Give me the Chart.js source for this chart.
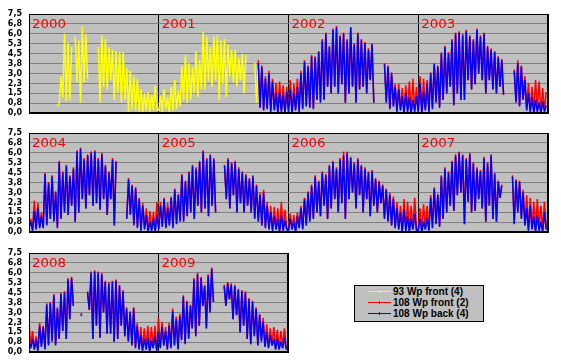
<!DOCTYPE html>
<html>
<head>
<meta charset="utf-8">
<script src="https://cdn.jsdelivr.net/npm/chart.js@4.4.1/dist/chart.umd.min.js"></script>
<style>
html,body{margin:0;padding:0;background:#fff;width:561px;height:361px;overflow:hidden;}
canvas{position:absolute;left:0;}
#legend{position:absolute;left:354px;top:285px;width:128px;height:35px;background:#c0c0c0;border:1px solid #000;font:bold 10px "Liberation Sans",Arial,sans-serif;color:#000;}
.lrow{position:absolute;left:0;height:11px;line-height:11px;white-space:nowrap;}
.lline{position:absolute;left:13px;width:23px;height:1px;top:5px;}
.ltick{position:absolute;left:11px;top:-1px;width:1px;height:3px;}
.ltext{position:absolute;left:38px;top:0;}
</style>
</head>
<body>
<canvas id="row1" width="561" height="125" style="top:0px"></canvas>
<canvas id="row2" width="561" height="125" style="top:119px"></canvas>
<canvas id="row3" width="300" height="125" style="top:239px"></canvas>
<div id="legend"></div>
<script>
const _ = null;
const legendLabels = ['93 Wp front (4)', '108 Wp front (2)', '108 Wp back (4)'];
const seriesColors = ['#ffff00', '#ff0000', '#0000ff'];
const yTickLabels = ['0,0','0,8','1,5','2,3','3,0','3,8','4,5','5,3','6,0','6,8','7,5'];
const yearsRow1 = ['2000','2001','2002','2003'];
const yearsRow2 = ['2004','2005','2006','2007'];
const yearsRow3 = ['2008','2009'];

// values every 5 days (73 per year)
const yellow2000 = [_,_,_,_,_,_, _,_,_,_,_,_, _,_,_,_,0.5,0.7, 2.8,1.2,6.0,0.9,5.3,1.0, 5.0,_,5.8,2.3,5.5,0.8, 6.6,2.3,6.0,2.6,_,_, _,_,_,5.0,0.8,5.9, 2.0,5.6,1.8,5.0,2.5,4.8, 1.0,4.7,1.5,4.6,0.8,4.6, 1.0,3.4,0.1,3.2,0.3,2.8, 0.2,2.6,0.1,1.8,0.0,1.5, 0.2,1.6,0.1,1.4,0.2,2.1, 0.3];
const yellow2001 = [0.2,1.3,0.1,1.8,0.3,1.2, 0.0,2.0,0.2,2.5,0.3,1.7, 0.5,3.6,1.0,4.4,0.8,3.8, 1.0,3.5,1.5,4.7,1.2,4.0, 1.8,6.2,1.8,5.8,2.4,5.0, 2.0,5.8,2.5,5.9,1.0,5.5, 2.2,5.6,1.2,5.2,2.8,4.8, 2.3,4.8,2.0,4.2,2.5,4.5, 1.5,4.4,_,_,_,_, 3.8,0.8,3.5,0.9,_,_, _,_,_,_,_,_, _,_,_,_,_,_, _];

const red2001 = [_,_,_,_,_,_, _,_,_,_,_,_, _,_,_,_,_,_, _,_,_,_,_,_, _,_,_,_,_,_, _,_,_,_,_,_, _,_,_,_,_,_, _,_,_,_,_,_, _,_,_,_,_,_, _,_,4.0,0.5,3.6,0.3, 2.8,0.4,3.2,0.2,2.6,0.3, 2.3,0.1,2.4,0.2,2.1,0.1, 2.0];
const blue2001 = [_,_,_,_,_,_, _,_,_,_,_,_, _,_,_,_,_,_, _,_,_,_,_,_, _,_,_,_,_,_, _,_,_,_,_,_, _,_,_,_,_,_, _,_,_,_,_,_, _,_,_,_,_,_, _,_,3.8,0.4,3.5,0.2, 2.6,0.3,3.0,0.1,2.4,0.2, 1.5,0.0,1.6,0.1,1.4,0.0, 1.6];

const red2002 = [0.2,2.5,0.1,2.2,0.3,2.6, 0.2,3.2,0.4,4.0,0.6,3.6, 0.5,4.4,0.4,4.3,1.1,4.7, 0.9,5.6,1.1,6.1,2.0,5.1, 1.5,6.4,2.0,6.6,1.5,5.9, 2.2,6.1,0.8,5.6,1.5,6.5, 2.0,5.3,0.8,6.1,1.8,5.6, 2.0,5.4,1.5,4.9,2.5,5.3, 0.8,_,_,_,_,_, 3.8,0.9,3.6,0.4,3.1,0.6, 2.2,0.2,2.2,0.3,1.9,0.1, 2.1,0.2,2.4,0.1,2.6,0.2, 2.0];
const blue2002 = [0.1,1.8,0.0,1.5,0.2,2.0, 0.1,3.0,0.3,3.9,0.5,3.5, 0.4,4.3,0.3,4.2,1.0,4.6, 0.8,5.5,1.0,6.0,2.0,5.0, 1.5,6.3,2.0,6.5,1.5,5.8, 2.2,6.0,0.8,5.5,1.5,6.5, 2.0,5.2,0.8,6.0,1.8,5.5, 2.0,5.3,1.5,4.8,2.5,5.2, 0.8,_,_,_,_,_, 3.7,0.8,3.5,0.3,3.0,0.5, 2.0,0.1,1.8,0.2,1.3,0.0, 1.5,0.1,1.2,0.0,1.0,0.1, 1.3];

const red2003 = [0.2,2.8,0.1,2.6,0.3,2.5, 0.2,3.1,0.4,3.8,0.9,3.6, 0.5,4.6,1.0,5.1,1.5,4.6, 2.0,5.6,0.6,6.1,1.5,6.2, 1.0,6.0,1.0,6.3,2.5,5.9, 1.8,5.6,2.2,6.4,3.0,5.9, 2.5,6.1,1.5,5.1,2.5,4.9, 1.8,4.7,1.5,4.3,2.0,4.1, 1.4,_,_,_,_,_, 3.3,0.9,4.0,0.6,3.6,1.1, 2.8,0.3,2.3,0.2,2.0,0.1, 2.5,0.2,2.4,0.1,1.9,0.2, 1.6];
const blue2003 = [0.1,2.3,0.0,1.6,0.2,2.2, 0.1,3.0,0.3,3.7,0.8,3.5, 0.4,4.5,1.0,5.0,1.5,4.5, 2.0,5.5,0.6,6.0,1.5,6.1, 1.0,5.9,1.0,6.2,2.5,5.8, 1.8,5.5,2.2,6.3,3.0,5.8, 2.5,6.0,1.5,5.0,2.5,4.8, 1.8,4.6,1.5,4.2,2.0,4.0, 1.4,_,_,_,_,_, 3.2,0.8,3.8,0.5,3.5,1.0, 2.5,0.2,1.5,0.1,1.2,0.0, 1.0,0.1,0.8,0.0,0.9,0.1, 0.6];

const red2004 = [0.5,1.0,0.2,2.4,0.3,2.2, 0.4,1.5,0.4,4.5,0.6,3.8, 1.1,4.3,0.9,3.1,0.4,5.4, 1.1,4.6,1.5,5.1,1.3,4.3, 2.0,4.9,0.8,6.2,1.5,6.4, 2.5,5.6,1.8,5.9,2.8,6.1, 2.0,6.2,2.2,5.6,1.7,6.0, 2.5,5.1,1.3,4.6,2.5,5.6, 0.5,5.4,_,_,_,_, _,1.1,4.1,1.4,3.6,0.6, 3.4,0.4,2.6,0.2,2.2,0.3, 1.8,0.1,1.6,0.2,1.5,0.1, 2.3];
const blue2004 = [0.3,0.8,0.1,1.6,0.2,1.8, 0.3,1.2,0.3,4.4,0.5,3.7, 1.0,4.2,0.8,3.0,0.3,5.3, 1.0,4.5,1.5,5.0,1.3,4.2, 2.0,4.8,0.8,6.1,1.5,6.3, 2.5,5.5,1.8,5.8,2.8,6.0, 2.0,6.1,2.2,5.5,1.7,5.9, 2.5,5.0,1.3,4.5,2.5,5.5, 0.5,5.3,_,_,_,_, _,1.0,4.0,1.3,3.5,0.5, 3.3,0.3,2.5,0.1,2.0,0.2, 1.3,0.0,0.8,0.1,1.0,0.0, 1.3];

const red2005 = [0.3,2.3,0.5,2.6,0.4,2.2, 0.6,2.7,0.4,3.3,0.7,2.9, 0.9,4.4,0.9,3.9,1.2,4.6, 1.5,5.1,1.0,4.9,2.0,5.4, 1.5,6.2,1.8,5.6,1.2,5.9, 2.0,5.6,1.5,_,_,_, _,5.1,2.5,5.6,1.8,5.3, 2.8,5.4,1.5,4.9,2.2,4.6, 1.5,4.4,2.0,4.1,1.5,4.3, 1.1,3.6,0.9,3.0,0.6,3.2, 0.4,2.3,0.3,2.0,0.2,1.9, 0.3,1.8,0.1,2.3,0.2,1.7, 0.3];
const blue2005 = [0.2,2.0,0.4,2.5,0.3,1.8, 0.5,2.6,0.3,3.2,0.6,2.8, 0.8,4.3,0.8,3.8,1.2,4.5, 1.5,5.0,1.0,4.8,2.0,5.3, 1.5,6.1,1.8,5.5,1.2,5.8, 2.0,5.5,1.5,_,_,_, _,5.0,2.5,5.5,1.8,5.2, 2.8,5.3,1.5,4.8,2.2,4.5, 1.5,4.3,2.0,4.0,1.5,4.2, 1.0,3.5,0.8,2.8,0.5,3.0, 0.3,2.0,0.2,1.5,0.1,1.2, 0.2,1.0,0.0,1.3,0.1,0.9, 0.2];

const red2006 = [0.2,1.4,0.3,1.3,0.1,1.5, 0.4,2.0,0.3,2.6,0.6,3.1, 0.9,3.6,1.1,4.3,1.5,3.9, 1.2,4.6,2.0,4.4,1.0,5.1, 1.8,5.4,2.5,4.9,1.5,5.6, 2.2,6.1,1.0,6.1,2.5,5.7, 3.0,5.3,1.8,5.6,2.8,5.1, 1.5,4.9,2.5,4.6,1.2,4.7, 2.0,4.1,1.5,3.9,2.2,3.6, 1.1,3.3,0.9,3.0,0.6,2.7, 0.4,2.3,0.3,2.0,0.1,2.5, 0.2,2.3,0.1,2.0,0.3,2.6, 0.2];
const blue2006 = [0.1,1.0,0.2,0.8,0.0,1.2, 0.3,1.8,0.2,2.5,0.5,3.0, 0.8,3.5,1.0,4.2,1.5,3.8, 1.2,4.5,2.0,4.3,1.0,5.0, 1.8,5.3,2.5,4.8,1.5,5.5, 2.2,5.8,1.0,6.0,2.5,5.6, 3.0,5.2,1.8,5.5,2.8,5.0, 1.5,4.8,2.5,4.5,1.2,4.6, 2.0,4.0,1.5,3.8,2.2,3.5, 1.0,3.2,0.8,2.8,0.5,2.5, 0.3,1.8,0.2,1.5,0.0,1.7, 0.1,1.2,0.0,1.0,0.2,1.4, 0.1];

const red2007 = [0.2,1.8,0.1,2.1,0.3,2.0, 0.2,2.8,0.4,3.4,0.7,2.9, 0.5,4.3,1.1,4.9,1.5,4.6, 2.0,5.4,1.6,5.9,2.8,6.1, 3.0,5.9,0.6,5.6,2.3,6.0, 1.5,5.3,1.6,4.9,2.5,4.7, 1.8,5.7,0.8,5.3,2.0,5.9, 1.0,4.5,0.8,3.9,2.6,3.6, _,_,_,_,_,4.3, 0.7,4.0,1.6,3.9,1.1,3.2, 0.6,2.8,0.2,2.6,0.3,2.3, 0.1,2.5,0.2,2.0,0.1,2.3, 0.3];
const blue2007 = [0.1,1.0,0.0,0.8,0.2,1.1, 0.1,2.6,0.3,3.3,0.6,2.8, 0.4,4.2,1.0,4.8,1.5,4.5, 2.0,5.3,1.6,5.8,2.8,6.0, 3.0,5.8,0.6,5.5,2.3,5.9, 1.5,5.2,1.6,4.8,2.5,4.6, 1.8,5.6,0.8,5.2,2.0,5.8, 1.0,4.4,0.8,3.8,2.6,3.5, _,_,_,_,_,4.2, 0.6,3.9,1.5,3.8,1.0,3.0, 0.5,1.8,0.1,2.0,0.2,1.2, 0.0,1.3,0.1,0.8,0.0,1.5, 0.2];

const red2008 = [2.3,0.4,1.6,0.3,1.2,0.2, 2.2,0.5,2.0,0.3,3.7,0.6, 3.8,0.9,4.4,0.6,3.4,1.1, 4.5,1.6,4.6,1.0,5.6,2.5, 5.7,3.5,_,_,_,2.9, 2.9,_,_,4.6,3.2,6.1, 1.0,6.2,2.0,6.1,1.1,6.0, 3.0,5.4,1.4,5.3,1.4,5.4, 0.8,5.5,1.0,5.1,2.0,4.7, 1.2,3.4,0.9,3.1,0.6,3.4, 0.4,2.2,0.3,1.9,0.2,1.8, 0.3,2.0,0.1,1.9,0.4,2.0, 0.2];
const blue2008 = [0.8,0.3,1.0,0.2,0.9,0.1, 2.0,0.4,1.9,0.2,3.6,0.5, 3.7,0.8,4.3,0.5,3.3,1.0, 4.4,1.6,4.5,1.0,5.5,2.5, 5.6,3.5,_,_,_,2.8, 2.8,_,_,4.5,3.2,6.0, 1.0,6.1,2.0,6.0,1.1,5.9, 3.0,5.3,1.4,5.2,1.4,5.3, 0.8,5.4,1.0,5.0,2.0,4.6, 1.2,3.3,0.8,3.0,0.5,3.3, 0.3,2.0,0.2,1.3,0.1,1.0, 0.2,1.1,0.0,0.9,0.3,1.2, 0.1];

const red2009 = [2.6,0.4,2.3,0.6,1.9,0.3, 2.2,0.4,3.3,0.6,2.7,0.3, 2.9,1.0,4.3,0.7,3.9,1.1, 3.6,1.8,5.6,1.2,6.0,2.0, 5.7,3.5,5.1,1.8,5.9,3.0, 6.4,3.8,_,_,_,_, _,5.1,3.5,5.3,4.0,5.2, 2.5,5.1,2.8,4.8,1.5,4.7, 2.0,4.6,1.0,4.1,0.6,3.9, 1.3,3.4,0.6,2.9,0.9,2.6, 0.5,2.1,0.4,1.8,0.6,1.9, 0.3,1.7,0.3,1.6,0.4,1.8, 0.3];
const blue2009 = [1.5,0.3,1.9,0.5,1.6,0.2, 2.0,0.3,3.1,0.5,2.5,0.2, 2.7,0.9,4.2,0.6,3.8,1.0, 3.5,1.8,5.5,1.2,5.9,2.0, 5.6,3.5,5.0,1.8,5.8,3.0, 6.3,3.8,_,_,_,_, _,5.0,3.5,5.2,4.0,5.1, 2.5,5.0,2.8,4.7,1.5,4.6, 2.0,4.5,1.0,4.0,0.6,3.8, 1.2,3.3,0.5,2.8,0.8,2.3, 0.4,1.5,0.3,1.3,0.5,1.0, 0.2,1.0,0.2,0.8,0.3,1.1, 0.2];

function series(arrs) {
  const pts = [];
  arrs.forEach((a, k) => {
    if (!a) return;
    a.forEach((v, i) => pts.push({x: k + i / a.length, y: v}));
  });
  return pts;
}

const bgPlugin = {
  id: 'bg',
  beforeDraw(chart) {
    const {ctx, chartArea: a} = chart;
    ctx.save();
    ctx.fillStyle = '#c0c0c0';
    ctx.fillRect(a.left, a.top, a.right - a.left, a.bottom - a.top);
    ctx.restore();
  }
};

function framePlugin(years) {
  return {
    id: 'frame',
    afterDraw(chart) {
      const {ctx, chartArea: a} = chart;
      const xs = chart.scales.x;
      ctx.save();
      ctx.strokeStyle = '#000';
      ctx.lineWidth = 1;
      ctx.strokeRect(Math.round(a.left) + 0.5, Math.round(a.top) + 0.5, Math.round(a.right - a.left) - 1, Math.round(a.bottom - a.top) - 1);
      ctx.fillStyle = '#ff0000';
      ctx.font = '11.5px "DejaVu Sans"';
      ctx.textBaseline = 'alphabetic';
      years.forEach((t, k) => {
        const px = xs.getPixelForValue(k) + 3;
        ctx.save();
        ctx.translate(px, a.top + 13.5);
        ctx.scale(1.16, 1);
        ctx.fillText(t, 0, 0);
        ctx.restore();
      });
      ctx.restore();
    }
  };
}

function makeRow(id, years, yellowArrs, redArrs, blueArrs, padRight) {
  const n = years.length;
  new Chart(document.getElementById(id), {
    type: 'line',
    data: {
      datasets: [
        {label: legendLabels[2], data: series(blueArrs), borderColor: seriesColors[2], order: 0},
        {label: legendLabels[1], data: series(redArrs), borderColor: seriesColors[1], order: 1},
        {label: legendLabels[0], data: series(yellowArrs), borderColor: seriesColors[0], order: 2}
      ]
    },
    options: {
      responsive: false,
      animation: false,
      devicePixelRatio: 1,
      layout: {padding: {left: 0, top: 14, right: padRight, bottom: 9}},
      plugins: {legend: {display: false}, tooltip: {enabled: false}},
      elements: {
        point: {radius: 0, hitRadius: 0},
        line: {borderWidth: 1.5, tension: 0, borderJoinStyle: 'bevel', borderCapStyle: 'butt', fill: false}
      },
      scales: {
        x: {
          type: 'linear', min: 0, max: n,
          afterFit: s => { s.height = 0; },
          ticks: {display: false, stepSize: 1},
          grid: {color: '#000', lineWidth: 1, drawTicks: false},
          border: {display: true, color: '#000', width: 1}
        },
        y: {
          min: 0, max: 7.5,
          afterFit: s => { s.width = 29; },
          ticks: {
            stepSize: 0.75, autoSkip: false, padding: 7, color: '#000',
            font: {family: 'DejaVu Sans', size: 8, weight: 'bold'},
            callback: (v, i) => yTickLabels[i]
          },
          grid: {color: '#808080', lineWidth: 1, drawTicks: false},
          border: {display: true, color: '#000', width: 1}
        }
      }
    },
    plugins: [bgPlugin, framePlugin(years)]
  });
}

makeRow('row1', yearsRow1, [yellow2000, yellow2001, null, null], [null, red2001, red2002, red2003], [null, blue2001, blue2002, blue2003], 13);
makeRow('row2', yearsRow2, [], [red2004, red2005, red2006, red2007], [blue2004, blue2005, blue2006, blue2007], 13);
makeRow('row3', yearsRow3, [], [red2008, red2009], [blue2008, blue2009], 12);

// legend
const lg = document.getElementById('legend');
legendLabels.forEach((t, k) => {
  const row = document.createElement('div');
  row.className = 'lrow';
  row.style.top = (k * 11) + 'px';
  row.innerHTML = '<div class="lline" style="background:' + seriesColors[k] + '"><div class="ltick" style="background:' + seriesColors[k] + '"></div></div><div class="ltext"></div>';
  row.querySelector('.ltext').textContent = t;
  lg.appendChild(row);
});
</script>
</body>
</html>
